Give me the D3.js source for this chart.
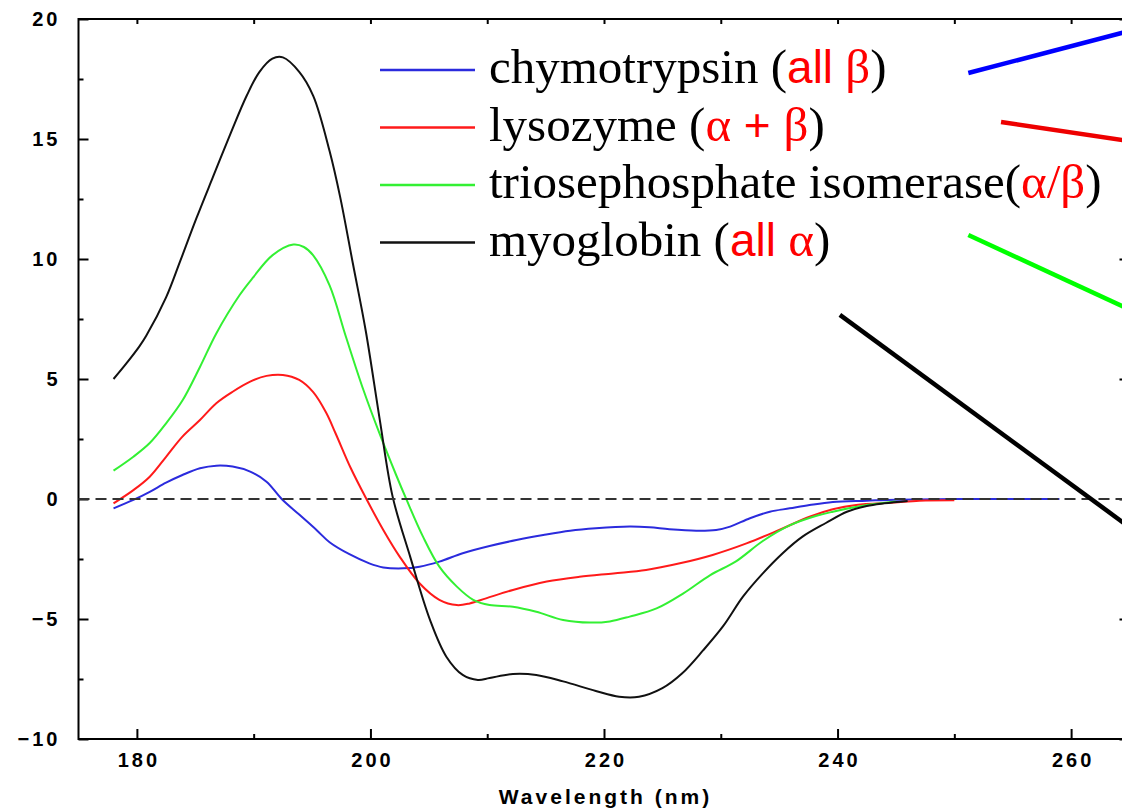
<!DOCTYPE html>
<html>
<head>
<meta charset="utf-8">
<script src="https://cdn.jsdelivr.net/npm/d3@7"></script>
<style>
  body { margin: 0; background: #fff; }
  svg { display: block; }
</style>
</head>
<body>
<svg id="chart" width="1122" height="808"></svg>
<script>
// Far-UV circular dichroism spectra of four reference proteins.
const xMajorTicks = [180, 200, 220, 240, 260];
const xMinorTicks = [190, 210, 230, 250];
const xTopTicks = [180, 190, 200, 210, 220, 230, 240, 250, 260];
const yMajorTicks = [-10, -5, 0, 5, 10, 15, 20];
const yMinorTicks = [-7.5, -2.5, 2.5, 7.5, 12.5, 17.5];
const xAxisTitle = "Wavelength (nm)";

// chymotrypsin (all beta)
const chymotrypsinNm = [178, 179.7, 181.1, 182.5, 183.9, 185.4, 186.8, 188.2, 189.7, 191.1, 192.4, 193.9, 195.4, 196.5, 198.2, 199.9, 201.1, 202.8, 204.2, 205.9, 207.9, 210.2, 212.5, 214.8, 217.1, 219.3, 222.2, 223.9, 225.6, 227.9, 229.6, 230.8, 232.5, 234.2, 235.9, 237.6, 239.6, 242.5, 245, 250, 259];
const chymotrypsinMre = [-0.39, -0.04, 0.3, 0.68, 1.0, 1.28, 1.39, 1.35, 1.14, 0.72, 0.0, -0.65, -1.3, -1.8, -2.3, -2.68, -2.85, -2.89, -2.82, -2.61, -2.26, -1.96, -1.71, -1.5, -1.32, -1.22, -1.15, -1.18, -1.26, -1.32, -1.29, -1.15, -0.8, -0.53, -0.39, -0.25, -0.12, -0.07, -0.03, 0.0, 0.0];

// lysozyme (alpha + beta)
const lysozymeNm = [178, 179.7, 181.1, 182.5, 183.9, 185.4, 186.8, 188.2, 189.7, 191.1, 192.5, 193.9, 195.1, 196.2, 197.0, 198.3, 199.6, 201.1, 202.5, 204.2, 205.9, 207.4, 208.5, 209.9, 212.2, 215.1, 217.9, 220.8, 223.6, 226.5, 229.3, 232.2, 235.0, 237.6, 239.6, 241.6, 244.8, 247, 250];
const lysozymeMre = [-0.18, 0.37, 0.93, 1.76, 2.6, 3.29, 3.99, 4.47, 4.89, 5.13, 5.17, 4.96, 4.45, 3.6, 2.75, 1.3, 0.05, -1.29, -2.4, -3.51, -4.2, -4.42, -4.35, -4.14, -3.79, -3.44, -3.24, -3.1, -2.96, -2.68, -2.33, -1.85, -1.29, -0.74, -0.43, -0.25, -0.15, -0.07, -0.05];

// triosephosphate isomerase (alpha/beta)
const timNm = [178, 179.7, 181.1, 182.5, 183.9, 185.4, 186.8, 188.8, 189.9, 191.6, 193.4, 194.3, 195.1, 196.5, 197.9, 199.4, 200.8, 202.2, 203.1, 204.5, 205.9, 207.4, 208.8, 210.2, 212.2, 214.2, 216.5, 218.8, 220.5, 222.2, 224.5, 226.8, 229.1, 231.3, 233.6, 235.9, 238.2, 239.6, 242.5, 245];
const timMre = [1.18, 1.76, 2.33, 3.15, 4.1, 5.5, 6.9, 8.5, 9.2, 10.15, 10.6, 10.5, 10.15, 8.9, 6.76, 4.54, 2.7, 1.0, -0.04, -1.57, -2.82, -3.65, -4.2, -4.42, -4.49, -4.7, -5.04, -5.15, -5.1, -4.9, -4.56, -3.93, -3.17, -2.6, -1.75, -1.1, -0.7, -0.53, -0.25, -0.1];

// myoglobin (all alpha)
const myoglobinNm = [178, 179.1, 180.2, 180.8, 182.5, 183.7, 185.1, 186.5, 188, 189.4, 190.5, 191.6, 192.5, 193.9, 195.1, 196.5, 197.4, 198.5, 199.6, 200.8, 201.9, 203.4, 205.1, 206.5, 207.9, 209.2, 210.2, 212.2, 214.2, 216.5, 219.3, 221.3, 223.0, 225, 226.7, 228.5, 230.2, 231.9, 233.6, 235.3, 237, 239, 240.8, 242.5, 244, 246];
const myoglobinMre = [5.0, 5.65, 6.35, 6.8, 8.4, 9.9, 11.7, 13.4, 15.2, 16.8, 17.8, 18.35, 18.4, 17.8, 16.8, 14.5, 12.6, 9.8, 7.0, 3.3, 0.1, -2.4, -5.04, -6.57, -7.33, -7.54, -7.46, -7.29, -7.33, -7.6, -8.0, -8.24, -8.24, -7.88, -7.26, -6.3, -5.3, -4.07, -3.1, -2.26, -1.57, -1.0, -0.53, -0.29, -0.18, -0.08];

const seriesNames = ["chymotrypsin", "lysozyme", "triosephosphate isomerase", "myoglobin"];
const seriesColors = ["#2b2bdd", "#ff1a1a", "#33f033", "#111111"];
const pointerColors = ["#0000ff", "#ee0000", "#00ff00", "#000000"];

// Pointer lines running off to the right, in data units [nm, value]
const pointerStart = [[251.2, 17.75], [254.0, 15.71], [251.2, 11.0], [240.2, 7.67]];
const pointerEnd = [[266, 19.63], [266, 14.84], [266, 7.67], [266, -1.53]];

const series = [
  { nm: chymotrypsinNm, v: chymotrypsinMre },
  { nm: lysozymeNm, v: lysozymeMre },
  { nm: timNm, v: timMre },
  { nm: myoglobinNm, v: myoglobinMre }
];

// Legend text pieces: [text, red?, sans?]
const legendParts = [
  [["chymotrypsin (", false, false], ["all", true, true], [" \u03B2", true, false], [")", false, false]],
  [["lysozyme (", false, false], ["\u03B1", true, false], [" + ", true, true], ["\u03B2", true, false], [")", false, false]],
  [["triosephosphate isomerase(", false, false], ["\u03B1/\u03B2", true, false], [")", false, false]],
  [["myoglobin (", false, false], ["all", true, true], [" \u03B1", true, false], [")", false, false]]
];

const svg = d3.select("#chart");
const W = 1122, H = 808;
svg.append("rect").attr("width", W).attr("height", H).attr("fill", "#fff");

const x = d3.scaleLinear().domain([175, 265]).range([78.5, 1129.5]);
const y = d3.scaleLinear().domain([-10, 20]).range([739, 19]);

const tickFont = { family: "'Liberation Sans', Arial, sans-serif", size: "20px", weight: "bold", spacing: "3px" };

function styleAxis(g) {
  g.select(".domain").remove();
  g.selectAll(".tick line").attr("stroke", "#000").attr("stroke-width", 2);
  g.selectAll("text")
    .attr("fill", "#000")
    .style("font-family", tickFont.family)
    .style("font-size", tickFont.size)
    .style("font-weight", tickFont.weight)
    .style("letter-spacing", tickFont.spacing);
}

// bottom axis
svg.append("g").attr("transform", `translate(0,${y(-10)})`)
  .call(d3.axisBottom(x).tickValues(xMajorTicks).tickSize(-10).tickPadding(14).tickFormat(d3.format("d")))
  .call(styleAxis)
  .selectAll("text").attr("dx", "1.5px");
svg.append("g").attr("transform", `translate(0,${y(-10)})`)
  .call(d3.axisBottom(x).tickValues(xMinorTicks).tickSize(-5).tickFormat(""))
  .call(styleAxis);
// top axis
svg.append("g").attr("transform", `translate(0,${y(20)})`)
  .call(d3.axisTop(x).tickValues(xTopTicks).tickSize(-5).tickFormat(""))
  .call(styleAxis);
// left axis
svg.append("g").attr("transform", `translate(${x(175)},0)`)
  .call(d3.axisLeft(y).tickValues(yMajorTicks).tickSize(-10).tickPadding(18).tickFormat(d3.format("d")))
  .call(styleAxis);
svg.append("g").attr("transform", `translate(${x(175)},0)`)
  .call(d3.axisLeft(y).tickValues(yMinorTicks).tickSize(-5).tickFormat(""))
  .call(styleAxis);
// right axis
svg.append("g").attr("transform", `translate(${x(265)},0)`)
  .call(d3.axisRight(y).tickValues(yMajorTicks).tickSize(-10).tickFormat(""))
  .call(styleAxis);
svg.append("g").attr("transform", `translate(${x(265)},0)`)
  .call(d3.axisRight(y).tickValues(yMinorTicks).tickSize(-5).tickFormat(""))
  .call(styleAxis);

// plot frame
svg.append("rect")
  .attr("x", x(175)).attr("y", y(20))
  .attr("width", x(265) - x(175)).attr("height", y(-10) - y(20))
  .attr("fill", "none").attr("stroke", "#000").attr("stroke-width", 2);

// x axis title
svg.append("text")
  .attr("x", x(220) + 1.5).attr("y", 804)
  .attr("text-anchor", "middle")
  .style("font-family", tickFont.family)
  .style("font-size", "21px")
  .style("font-weight", "bold")
  .style("letter-spacing", "3px")
  .text(xAxisTitle);

// spectra
const line = d3.line()
  .x(d => x(d[0]))
  .y(d => y(d[1]))
  .curve(d3.curveCatmullRom.alpha(0.5));

svg.append("g").selectAll("path")
  .data(series)
  .join("path")
  .attr("d", s => line(s.nm.map((n, i) => [n, s.v[i]])))
  .attr("fill", "none")
  .attr("stroke", (s, i) => seriesColors[i])
  .attr("stroke-width", 2)
  .attr("stroke-linejoin", "round");

// zero baseline
svg.append("line")
  .attr("x1", x(175)).attr("x2", x(265))
  .attr("y1", y(0)).attr("y2", y(0))
  .attr("stroke", "#333").attr("stroke-width", 2)
  .attr("stroke-dasharray", "11,6");

// legend
const legend = svg.append("g");
const legendX0 = 380, legendX1 = 475, legendTextX = 489, legendY0 = 70, legendStep = 57.5;
seriesNames.forEach((name, i) => {
  const ly = legendY0 + i * legendStep;
  legend.append("line")
    .attr("x1", legendX0).attr("x2", legendX1)
    .attr("y1", ly).attr("y2", ly)
    .attr("stroke", seriesColors[i]).attr("stroke-width", 2.5);
  const t = legend.append("text")
    .attr("x", legendTextX).attr("y", ly + 13)
    .style("font-family", "'Liberation Serif', 'Times New Roman', serif")
    .style("font-size", "49px");
  legendParts[i].forEach(([txt, red, sans]) => {
    t.append("tspan")
      .attr("fill", red ? "#ff0000" : "#000")
      .style("font-family", sans ? "'Liberation Sans', Arial, sans-serif" : null)
      .style("font-size", sans ? "46px" : null)
      .style("white-space", "pre")
      .text(txt);
  });
});

// pointer lines
svg.append("g").selectAll("line")
  .data(pointerStart)
  .join("line")
  .attr("x1", d => x(d[0])).attr("y1", d => y(d[1]))
  .attr("x2", (d, i) => x(pointerEnd[i][0])).attr("y2", (d, i) => y(pointerEnd[i][1]))
  .attr("stroke", (d, i) => pointerColors[i])
  .attr("stroke-width", 4.5);
</script>
</body>
</html>
